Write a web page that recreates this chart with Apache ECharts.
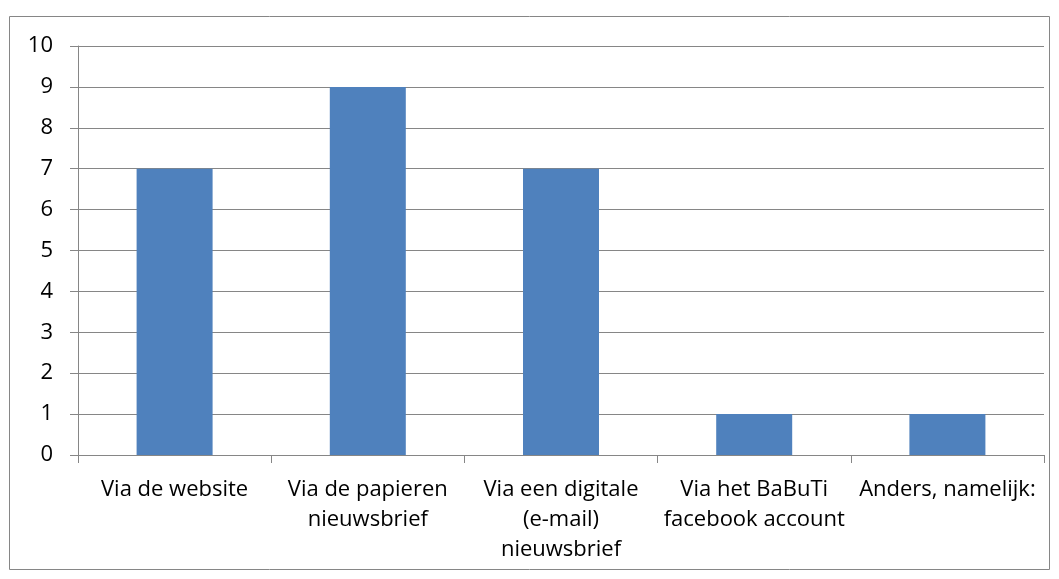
<!DOCTYPE html>
<html>
<head>
<meta charset="utf-8">
<script src="https://cdn.jsdelivr.net/npm/echarts@6/dist/echarts.min.js"></script>
<style>
  html, body { margin: 0; padding: 0; background: #fff; }
  #chart { width: 1059px; height: 579px; }
</style>
</head>
<body>
<div id="chart"></div>
<script>
// categories and counts
const categories = [
    'Via de website',
    'Via de papieren\nnieuwsbrief',
    'Via een digitale\n(e-mail)\nnieuwsbrief',
    'Via het BaBuTi\nfacebook account',
    'Anders, namelijk:'
];
const counts = [7, 9, 7, 1, 1];

const font = '"Open Sans", "Noto Sans", sans-serif';

echarts.init(document.querySelector('#chart')).setOption({
    animation: false,
    graphic: [{
        type: 'rect',
        shape: { x: 9.5, y: 16.5, width: 1040, height: 553 },
        style: { fill: 'none', stroke: '#868686', lineWidth: 1 },
        silent: true
    }],
    grid: { left: 78, right: 15, top: 46, bottom: 124 },
    xAxis: {
        type: 'category',
        data: categories,
        axisLine: { lineStyle: { color: '#868686', width: 1 } },
        axisTick: { show: true, length: 8, lineStyle: { color: '#868686' } },
        axisLabel: {
            interval: 0,
            margin: 20,
            color: '#000',
            fontFamily: font,
            fontSize: 22,
            lineHeight: 30
        }
    },
    yAxis: {
        type: 'value',
        min: 0,
        max: 10,
        interval: 1,
        axisLine: { show: true, lineStyle: { color: '#868686', width: 1 } },
        axisTick: { show: true, length: 8, lineStyle: { color: '#868686' } },
        axisLabel: {
            margin: 25,
            color: '#000',
            fontFamily: font,
            fontSize: 22
        },
        splitLine: { show: true, lineStyle: { color: '#868686', width: 1 } }
    },
    series: [{
        type: 'bar',
        data: counts,
        barWidth: 76,
        itemStyle: { color: '#4F81BD' }
    }]
});
</script>
</body>
</html>
